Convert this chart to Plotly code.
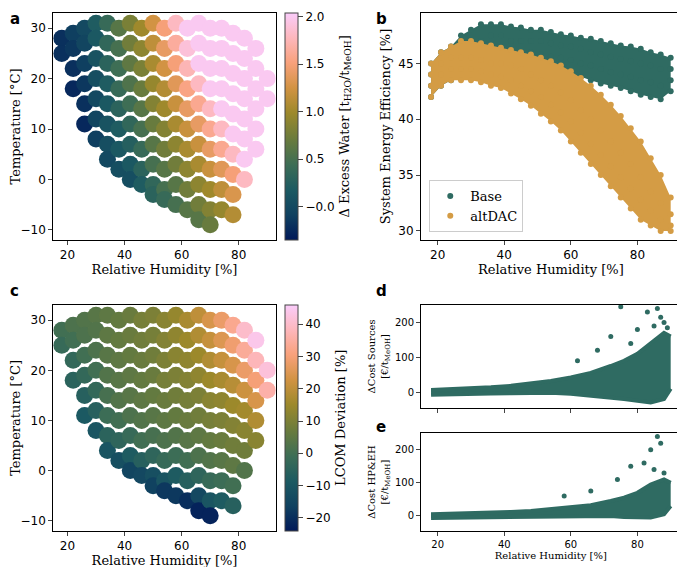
import plotly.graph_objects as go

# --- panel a / c : weather samples, one column per humidity value
rh_cols = [18, 22, 26, 30, 34, 38, 42, 46, 50, 54, 58, 62, 66, 70, 74, 78, 82, 86, 90]
temp_cols = [
    [28, 25],
    [29, 26, 22, 18],
    [30, 27, 23, 19, 15, 11],
    [31, 28, 24, 20, 16, 12, 8],
    [31, 27, 23, 19, 15, 11, 7, 4],
    [30, 26, 22, 18, 14, 10, 6, 2],
    [31, 27, 23, 19, 15, 11, 7, 3, 0],
    [30, 26, 22, 18, 14, 10, 6, 2, -1],
    [31, 27, 23, 19, 15, 11, 7, 3, -1, -3],
    [30, 26, 22, 18, 14, 10, 6, 2, -2, -4],
    [31, 27, 23, 19, 15, 11, 7, 3, -1, -5],
    [30, 26, 22, 18, 14, 10, 6, 2, -2, -6],
    [31, 27, 23, 19, 15, 11, 7, 3, -1, -5, -8],
    [30, 26, 22, 18, 14, 10, 6, 2, -2, -6, -9],
    [30, 26, 22, 18, 14, 10, 6, 2, -2, -6],
    [29, 25, 21, 17, 13, 9, 5, 1, -3, -7],
    [28, 24, 20, 16, 12, 8, 4, 0],
    [26, 22, 18, 14, 10, 6],
    [20, 16],
]
water_cols = [
    [-0.2, -0.2],
    [-0.1, -0.15, -0.2, -0.25],
    [0.0, -0.05, -0.1, -0.15, -0.2, -0.25],
    [0.2, 0.15, 0.1, 0.05, 0, -0.05, -0.1],
    [0.4, 0.35, 0.3, 0.2, 0.15, 0.1, 0.05, 0],
    [0.6, 0.5, 0.45, 0.4, 0.3, 0.2, 0.15, 0.05],
    [0.8, 0.75, 0.65, 0.55, 0.45, 0.35, 0.25, 0.15, 0.05],
    [1.0, 0.9, 0.8, 0.7, 0.6, 0.5, 0.4, 0.3, 0.2],
    [1.25, 1.15, 1.05, 0.95, 0.85, 0.7, 0.6, 0.5, 0.35, 0.3],
    [1.5, 1.4, 1.25, 1.1, 1.0, 0.85, 0.75, 0.6, 0.5, 0.4],
    [1.8, 1.65, 1.5, 1.35, 1.2, 1.05, 0.9, 0.75, 0.6, 0.5],
    [2.0, 1.9, 1.75, 1.55, 1.4, 1.2, 1.05, 0.9, 0.75, 0.6],
    [2.0, 2.0, 2.0, 1.8, 1.6, 1.4, 1.2, 1.05, 0.9, 0.75, 0.6],
    [2.0, 2.0, 2.0, 2.0, 1.8, 1.6, 1.4, 1.2, 1.0, 0.85, 0.7],
    [2, 2, 2, 2, 2, 1.8, 1.6, 1.35, 1.15, 0.95],
    [2, 2, 2, 2, 2, 2, 1.8, 1.5, 1.3, 1.1],
    [2, 2, 2, 2, 2, 2, 2, 1.8],
    [2, 2, 2, 2, 2, 2],
    [2, 2],
]
lcom_cols = [
    [0, -2],
    [2, 0, -3, -5],
    [3, 2, 0, -3, -6, -9],
    [4, 3, 2, 0, -3, -6, -10],
    [5, 5, 4, 3, 1, -1, -5, -10],
    [6, 6, 5, 4, 3, 0, -4, -12],
    [7, 7, 6, 5, 4, 2, -2, -8, -15],
    [9, 8, 7, 6, 5, 3, 0, -6, -14],
    [10, 9, 8, 7, 6, 4, 1, -4, -12, -16],
    [12, 11, 10, 9, 7, 5, 2, -2, -10, -18],
    [14, 13, 12, 10, 8, 6, 3, -1, -8, -18],
    [17, 15, 13, 11, 9, 7, 4, 0, -6, -20],
    [20, 18, 15, 13, 10, 8, 5, 2, -4, -14, -22],
    [24, 21, 18, 15, 12, 9, 6, 3, -2, -10, -22],
    [28, 25, 21, 17, 13, 10, 7, 4, -1, -8],
    [33, 29, 24, 19, 15, 11, 8, 5, 0, -6],
    [40, 34, 28, 22, 16, 12, 8, 3],
    [44, 38, 30, 24, 18, 12],
    [42, 36],
]

# --- panel b : efficiency bands (low / mid / mid / high per humidity)
rh_b = [18, 21, 24, 27, 30, 33, 36, 39, 42, 45, 48, 51, 54, 57, 60, 63, 66, 69, 72, 75, 78, 81, 84, 87, 90]
base_eff = [
    [42, 43, 44, 45], [43, 44, 45, 46], [43.5, 44.5, 45.5, 46.5], [44, 45, 46.5, 47.5],
    [44.5, 45.5, 47, 48], [45, 46, 47, 48.5], [45, 46, 47.5, 48.5], [45, 46, 47.5, 48.5],
    [45, 46, 47, 48.3], [45, 46, 47, 48.2], [44.8, 46, 47, 48], [44.6, 45.8, 47, 48],
    [44.5, 45.6, 46.8, 47.8], [44.3, 45.5, 46.6, 47.6], [44, 45.3, 46.5, 47.5],
    [43.8, 45, 46.3, 47.3], [43.5, 44.8, 46, 47.2], [43.2, 44.5, 45.8, 47],
    [43, 44.2, 45.6, 46.8], [42.8, 44, 45.4, 46.6], [42.5, 43.8, 45.2, 46.5],
    [42.2, 43.5, 45, 46.3], [42, 43.3, 44.8, 46], [41.8, 43, 44.5, 45.8], [42.5, 43.5, 44.5, 45.5],
]
alt_eff = [
    [42, 43, 44, 45], [43, 44, 45, 46], [43.5, 44.5, 45.5, 46.5], [43.5, 44.5, 45.5, 47],
    [43.5, 44.5, 45.5, 47], [43.3, 44.3, 45.3, 46.8], [43, 44, 45, 46.6], [42.8, 43.8, 45, 46.4],
    [42.3, 43.5, 44.8, 46.2], [41.8, 43, 44.5, 46], [41.2, 42.5, 44, 45.8], [40.5, 42, 43.5, 45.5],
    [39.8, 41.3, 43, 45.2], [39, 40.6, 42.4, 44.8], [38, 39.8, 41.7, 44.3], [37, 38.8, 40.8, 43.7],
    [36, 37.8, 40, 43], [35, 36.8, 39, 42.2], [34, 35.8, 38, 41.3], [33, 34.8, 37, 40.3],
    [32, 33.8, 36, 39.2], [31, 32.8, 34.8, 38], [30.5, 31.8, 33.5, 36.5], [30, 31, 32.5, 35], [30, 30.5, 31.5, 33],
]

# --- panels d / e : cost differences (low / high band per humidity) and outliers
rh_de = [18, 24, 30, 36, 42, 48, 54, 60, 66, 72, 76, 80, 84, 88, 90]
src_low = [-8, -6, -5, -4, -3, -2, -2, -5, -10, -15, -20, -25, -30, -20, 10]
src_high = [6, 8, 10, 14, 18, 24, 32, 42, 55, 75, 90, 110, 140, 170, 160]
hp_low = [-6, -5, -4, -3, -2, -1, 0, 0, 0, 0, -3, -5, -5, 5, 30]
hp_high = [5, 6, 8, 10, 12, 15, 20, 25, 32, 45, 55, 70, 95, 110, 100]
src_out_rh = [62, 68, 72, 75, 78, 80, 83, 85, 86, 87, 88, 89]
src_out_v = [90, 120, 160, 245, 140, 180, 230, 190, 240, 215, 200, 185]
hp_out_rh = [58, 66, 74, 78, 82, 84, 85, 86, 87, 88]
hp_out_v = [60, 75, 110, 150, 160, 200, 140, 240, 220, 130]

batlow = [[0, "#011959"], [0.11, "#104160"], [0.22, "#1c5a62"], [0.33, "#3c6d56"],
          [0.44, "#687b3e"], [0.56, "#9d892b"], [0.67, "#d29343"], [0.78, "#f8a17b"],
          [0.89, "#fdb7bc"], [1, "#faccfa"]]

rh_flat, temp_flat, water_flat, lcom_flat = [], [], [], []
for rh, ts, ws, ls in zip(rh_cols, temp_cols, water_cols, lcom_cols):
    rh_flat += [rh] * len(ts)
    temp_flat += ts
    water_flat += ws
    lcom_flat += ls

TEAL = "#2f6b62"
GOLD = "#d49c45"
SERIF = "DejaVu Serif"
XR = 0.982

fig = go.Figure()

# a
fig.add_trace(go.Scatter(x=rh_flat, y=temp_flat, mode="markers", xaxis="x", yaxis="y",
                         marker=dict(size=17, color=water_flat, colorscale=batlow, cmin=-0.35, cmax=2.04,
                                     colorbar=dict(x=0.405, xanchor="left", xpad=0, ypad=0, y=0.591,
                                                   yanchor="bottom", len=0.4,
                                                   thickness=13, outlinewidth=1, ticks="outside",
                                                   tickmode="array", tickvals=[0, 0.5, 1, 1.5, 2],
                                                   ticktext=["\u22120.0", "0.5", "1.0", "1.5", "2.0"],
                                                   title=dict(text="\u0394 Excess Water [t<sub>H2O</sub>/t<sub>MeOH</sub>]",
                                                              side="right", font=dict(family=SERIF, size=13)))),
                         showlegend=False))
# c
fig.add_trace(go.Scatter(x=rh_flat, y=temp_flat, mode="markers", xaxis="x3", yaxis="y3",
                         marker=dict(size=17, color=lcom_flat, colorscale=batlow, cmin=-24, cmax=46,
                                     colorbar=dict(x=0.405, xanchor="left", xpad=0, ypad=0, y=0.078,
                                                   yanchor="bottom", len=0.398,
                                                   thickness=13, outlinewidth=1, ticks="outside",
                                                   tickvals=[-20, -10, 0, 10, 20, 30, 40],
                                                   ticktext=["\u221220", "\u221210", "0", "10", "20", "30", "40"],
                                                   title=dict(text="LCOM Deviation [%]", side="right",
                                                              font=dict(family=SERIF, size=13)))),
                         showlegend=False))

# b : filled bands plus points
for name, eff, col in [("Base", base_eff, TEAL), ("altDAC", alt_eff, GOLD)]:
    fig.add_trace(go.Scatter(x=rh_b, y=[e[0] for e in eff], mode="lines", line=dict(width=0, color=col),
                             xaxis="x2", yaxis="y2", showlegend=False, hoverinfo="skip"))
    fig.add_trace(go.Scatter(x=rh_b, y=[e[3] for e in eff], mode="lines", line=dict(width=0, color=col),
                             fill="tonexty", fillcolor=col, xaxis="x2", yaxis="y2", showlegend=False,
                             hoverinfo="skip"))
    xs = [r for r, e in zip(rh_b, eff) for _ in e]
    ys = [v for e in eff for v in e]
    fig.add_trace(go.Scatter(x=xs, y=ys, mode="markers", marker=dict(size=6, color=col), name=name,
                             xaxis="x2", yaxis="y2"))

# d / e
for lo, hi, orh, ov, ax, ay in [(src_low, src_high, src_out_rh, src_out_v, "x4", "y4"),
                                (hp_low, hp_high, hp_out_rh, hp_out_v, "x5", "y5")]:
    fig.add_trace(go.Scatter(x=rh_de, y=lo, mode="lines", line=dict(width=4, color=TEAL),
                             xaxis=ax, yaxis=ay, showlegend=False))
    fig.add_trace(go.Scatter(x=rh_de, y=hi, mode="lines", line=dict(width=4, color=TEAL), fill="tonexty",
                             fillcolor=TEAL, xaxis=ax, yaxis=ay, showlegend=False))
    fig.add_trace(go.Scatter(x=orh, y=ov, mode="markers", marker=dict(size=5, color=TEAL),
                             xaxis=ax, yaxis=ay, showlegend=False))

axis = dict(showgrid=False, zeroline=False, showline=True, linecolor="black", mirror=True,
            ticks="outside", ticklen=4, tickfont=dict(size=12, color="black"))
title_font = dict(family=SERIF, size=13, color="black")

fig.update_layout(
    width=685, height=567, margin=dict(l=0, r=0, t=0, b=0),
    plot_bgcolor="white", paper_bgcolor="white",
    font=dict(family="DejaVu Sans", color="black"),
    xaxis=dict(axis, domain=[0.066, 0.391], range=[15, 93], tickvals=[20, 40, 60, 80],
               title=dict(text="Relative Humidity [%]", font=title_font, standoff=0)),
    yaxis=dict(axis, domain=[0.591, 0.991], range=[-12, 33], tickvals=[-10, 0, 10, 20, 30],
               ticktext=["\u221210", "0", "10", "20", "30"],
               title=dict(text="Temperature [\u00b0C]", font=title_font, standoff=4)),
    xaxis2=dict(axis, anchor="y2", domain=[0.603, XR], range=[15, 93], tickvals=[20, 40, 60, 80],
                title=dict(text="Relative Humidity [%]", font=title_font, standoff=0)),
    yaxis2=dict(axis, anchor="x2", domain=[0.591, 0.991], range=[29.2, 49.5], tickvals=[30, 35, 40, 45],
                title=dict(text="System Energy Efficiency [%]", font=title_font, standoff=4)),
    xaxis3=dict(axis, anchor="y3", domain=[0.066, 0.391], range=[15, 93], tickvals=[20, 40, 60, 80],
                title=dict(text="Relative Humidity [%]", font=title_font, standoff=0)),
    yaxis3=dict(axis, anchor="x3", domain=[0.078, 0.476], range=[-12, 33], tickvals=[-10, 0, 10, 20, 30],
                ticktext=["\u221210", "0", "10", "20", "30"],
                title=dict(text="Temperature [\u00b0C]", font=title_font, standoff=4)),
    xaxis4=dict(axis, anchor="y4", domain=[0.603, XR], range=[15, 93], tickvals=[20, 40, 60, 80],
                showticklabels=False),
    yaxis4=dict(axis, anchor="x4", domain=[0.295, 0.476], range=[-45, 250], tickvals=[0, 100, 200],
                tickfont=dict(size=10), title=dict(text="\u0394Cost Sources<br>[\u20ac/t<sub>MeOH</sub>]",
                                                   font=dict(family=SERIF, size=10), standoff=4)),
    xaxis5=dict(axis, anchor="y5", domain=[0.603, XR], range=[15, 93], tickvals=[20, 40, 60, 80],
                tickfont=dict(size=10), title=dict(text="Relative Humidity [%]",
                                                   font=dict(family=SERIF, size=10), standoff=0)),
    yaxis5=dict(axis, anchor="x5", domain=[0.078, 0.25], range=[-45, 250], tickvals=[0, 100, 200],
                tickfont=dict(size=10), title=dict(text="\u0394Cost HP&EH<br>[\u20ac/t<sub>MeOH</sub>]",
                                                   font=dict(family=SERIF, size=10), standoff=4)),
    legend=dict(x=0.615, y=0.605, xanchor="left", yanchor="bottom", bgcolor="white", traceorder="normal",
                bordercolor="#cccccc", borderwidth=1, font=dict(family=SERIF, size=13)),
)

for txt, x, y in [("a", 0.0, 1.0), ("b", 0.535, 1.0), ("c", 0.0, 0.52), ("d", 0.535, 0.52), ("e", 0.535, 0.28)]:
    fig.add_annotation(text="<b>%s</b>" % txt, x=x, y=y, xref="paper", yref="paper", xanchor="left",
                       yanchor="top", showarrow=False, font=dict(size=15))

fig.write_html("out.html")
